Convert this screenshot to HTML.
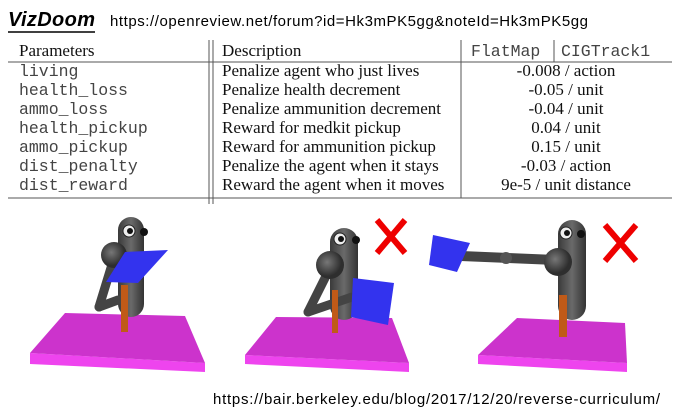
<!DOCTYPE html>
<html><head><meta charset="utf-8"><style>
html,body{margin:0;padding:0;background:#fff;width:674px;height:413px;overflow:hidden}
svg{display:block}
.s{font-family:"Liberation Serif",serif;font-size:17px;fill:#111}
.m{font-family:"Liberation Mono",monospace;font-size:16.5px;fill:#444}
.a{font-family:"Liberation Sans",sans-serif;fill:#000}
</style></head><body>
<svg width="674" height="413" viewBox="0 0 674 413">
<g>
<text x="8" y="26" class="a" font-size="20" font-weight="bold" font-style="italic" textLength="87">VizDoom</text>
<line x1="8" y1="32" x2="95" y2="32" stroke="#000" stroke-width="1.5"/>
<text x="110" y="26" class="a" font-size="15" textLength="478">https://openreview.net/forum?id=Hk3mPK5gg&amp;noteId=Hk3mPK5gg</text>
</g>
<g>
<line x1="8" y1="62" x2="672" y2="62" stroke="#555" stroke-width="1"/>
<line x1="8" y1="198" x2="672" y2="198" stroke="#555" stroke-width="1"/>
<line x1="209" y1="40" x2="209" y2="204" stroke="#555"/>
<line x1="213" y1="40" x2="213" y2="204" stroke="#555"/>
<line x1="461" y1="40" x2="461" y2="198" stroke="#555"/>
<line x1="554" y1="40" x2="554" y2="62" stroke="#555"/>
<text x="19" y="56" class="s">Parameters</text>
<text x="222" y="56" class="s">Description</text>
<text x="471" y="56" class="m">FlatMap</text>
<text x="561" y="56" class="m">CIGTrack1</text>
<g>
<text x="19" y="76" class="m">living</text><text x="222" y="76" class="s">Penalize agent who just lives</text><text x="566" y="76" class="s" text-anchor="middle">-0.008 / action</text>
<text x="19" y="95" class="m">health_loss</text><text x="222" y="95" class="s">Penalize health decrement</text><text x="566" y="95" class="s" text-anchor="middle">-0.05 / unit</text>
<text x="19" y="114" class="m">ammo_loss</text><text x="222" y="114" class="s">Penalize ammunition decrement</text><text x="566" y="114" class="s" text-anchor="middle">-0.04 / unit</text>
<text x="19" y="133" class="m">health_pickup</text><text x="222" y="133" class="s">Reward for medkit pickup</text><text x="566" y="133" class="s" text-anchor="middle">0.04 / unit</text>
<text x="19" y="152" class="m">ammo_pickup</text><text x="222" y="152" class="s">Reward for ammunition pickup</text><text x="566" y="152" class="s" text-anchor="middle">0.15 / unit</text>
<text x="19" y="171" class="m">dist_penalty</text><text x="222" y="171" class="s">Penalize the agent when it stays</text><text x="566" y="171" class="s" text-anchor="middle">-0.03 / action</text>
<text x="19" y="190" class="m">dist_reward</text><text x="222" y="190" class="s">Reward the agent when it moves</text><text x="566" y="190" class="s" text-anchor="middle">9e-5 / unit distance</text>
</g>
</g>
<defs>
<linearGradient id="bd" x1="0" x2="1"><stop offset="0" stop-color="#3a3a3a"/><stop offset=".5" stop-color="#6a6a6a"/><stop offset="1" stop-color="#333"/></linearGradient>
<radialGradient id="ball" cx=".4" cy=".4"><stop offset="0" stop-color="#777"/><stop offset="1" stop-color="#2e2e2e"/></radialGradient>
</defs>
<g>
<polygon points="30,353 205,363 205,372 30,364" fill="#ee44ee"/>
<polygon points="65,313 185,316 205,363 30,353" fill="#cc33cc"/>
<rect x="118" y="217" width="26" height="100" rx="13" fill="url(#bd)"/>
<circle cx="129" cy="231" r="6" fill="#eee" stroke="#222"/><circle cx="130" cy="231" r="3" fill="#111"/>
<circle cx="144" cy="232" r="4" fill="#111"/>
<line x1="114" y1="258" x2="99" y2="307" stroke="#444" stroke-width="9" stroke-linecap="round"/>
<line x1="99" y1="307" x2="118" y2="300" stroke="#444" stroke-width="9" stroke-linecap="round"/>
<circle cx="114" cy="255" r="13" fill="url(#ball)"/>
<polygon points="125,252 168,250 138,283 106,282" fill="#3333ee"/>
<rect x="121" y="285" width="7" height="47" fill="#c05a18"/>
</g>
<g>
<polygon points="245,355 409,363 409,372 245,364" fill="#ee44ee"/>
<polygon points="276,317 392,318 409,363 245,355" fill="#cc33cc"/>
<rect x="330" y="228" width="28" height="92" rx="14" fill="url(#bd)"/>
<circle cx="340" cy="239" r="6" fill="#eee" stroke="#222"/><circle cx="341" cy="239" r="3" fill="#111"/>
<circle cx="356" cy="240" r="4" fill="#111"/>
<line x1="330" y1="268" x2="308" y2="312" stroke="#444" stroke-width="9" stroke-linecap="round"/>
<line x1="308" y1="312" x2="352" y2="297" stroke="#444" stroke-width="9" stroke-linecap="round"/>
<circle cx="330" cy="265" r="14" fill="url(#ball)"/>
<polygon points="353,278 394,283 388,325 351,317" fill="#3333ee"/>
<rect x="332" y="290" width="6" height="43" fill="#c05a18"/>
<path d="M377,220 L405,253 M405,220 L377,253" stroke="#ee0000" stroke-width="6"/>
</g>
<g>
<polygon points="478,355 627,363 627,372 478,364" fill="#ee44ee"/>
<polygon points="517,318 625,323 627,363 478,355" fill="#cc33cc"/>
<rect x="558" y="220" width="28" height="100" rx="14" fill="url(#bd)"/>
<circle cx="566" cy="233" r="6" fill="#eee" stroke="#222"/><circle cx="567" cy="233" r="3" fill="#111"/>
<circle cx="581" cy="234" r="4" fill="#111"/>
<line x1="461" y1="256" x2="556" y2="260" stroke="#444" stroke-width="10" stroke-linecap="round"/>
<circle cx="506" cy="258" r="6" fill="#555"/>
<circle cx="558" cy="262" r="14" fill="url(#ball)"/>
<polygon points="433,235 470,243 457,272 429,265" fill="#3333ee"/>
<rect x="559" y="295" width="8" height="42" fill="#c05a18"/>
<path d="M605,225 L636,261 M636,225 L605,261" stroke="#ee0000" stroke-width="6"/>
</g>
<text x="213" y="404" class="a" font-size="15" textLength="447">https://bair.berkeley.edu/blog/2017/12/20/reverse-curriculum/</text>
</svg>
</body></html>
